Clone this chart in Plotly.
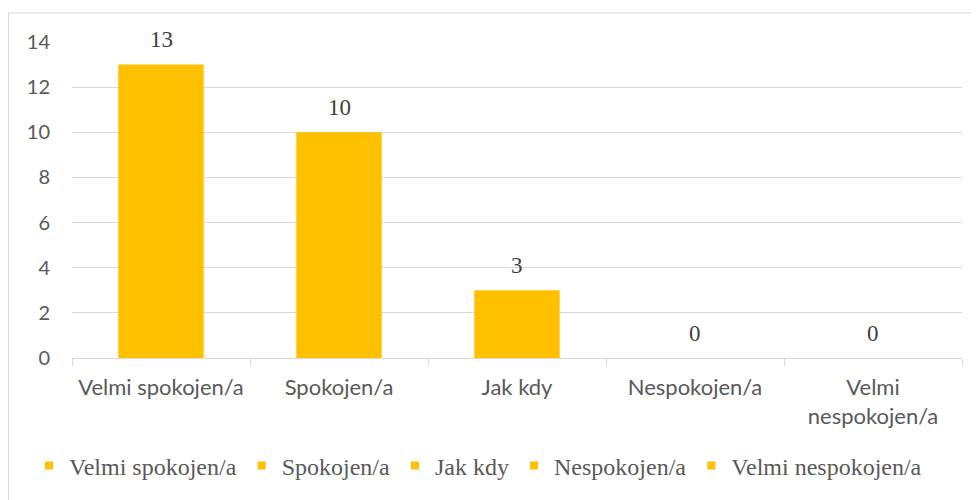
import plotly.graph_objects as go

categories = ["Velmi spokojen/a", "Spokojen/a", "Jak kdy", "Nespokojen/a", "Velmi nespokojen/a"]
tick_labels = ["Velmi spokojen/a", "Spokojen/a", "Jak kdy", "Nespokojen/a", "Velmi<br>nespokojen/a"]
values = [13, 10, 3, 0, 0]

BAR = "#FFC000"
GRID = "#D9D9D9"

# page body has an 8px margin -> compensate
L, T = 64, 34
PW, PH = 890, 316
W, H = 979, 500

fig = go.Figure()
for cat, val in zip(categories, values):
    fig.add_trace(go.Bar(x=[cat], y=[val], name=cat, marker=dict(color=BAR, line=dict(width=0)),
                         width=0.48, showlegend=False))
for cat in categories:
    fig.add_trace(go.Scatter(x=[None], y=[None], mode="markers", name=cat,
                             marker=dict(symbol="square", size=8, color=BAR)))

for cat, val in zip(categories, values):
    fig.add_annotation(x=cat, y=val, text=str(val), showarrow=False, yshift=25,
                       font=dict(family="Liberation Serif", size=23, color="#404040"))

fig.update_layout(
    width=W, height=H,
    margin=dict(l=L, r=W - L - PW, t=T, b=H - T - PH, autoexpand=False),
    paper_bgcolor="white", plot_bgcolor="white",
    barmode="overlay",
    showlegend=True,
    legend=dict(orientation="h", x=(21 - L) / PW, xanchor="left", y=-0.27, yanchor="top",
                font=dict(family="Liberation Serif", size=24, color="#595959"),
                itemwidth=30, tracegroupgap=0),
    xaxis=dict(type="category", categoryorder="array", categoryarray=categories,
               tickvals=categories, ticktext=tick_labels,
               showgrid=False, showline=True, linecolor=GRID, linewidth=1,
               ticks="outside", tickson="boundaries", ticklen=7, tickcolor=GRID,
               ticklabelstandoff=10, automargin=False,
               tickfont=dict(family="Lato", size=22, color="#595959"),
               range=[-0.5, 4.5]),
    yaxis=dict(range=[0, 14], dtick=2, showgrid=True, gridcolor=GRID, gridwidth=1,
               zeroline=False, showline=False, ticks="", ticklabelstandoff=21,
               automargin=False,
               tickfont=dict(family="Lato", size=20, color="#595959")),
)

fig.add_shape(type="rect", xref="paper", yref="paper",
              x0=(0.5 - L) / PW, x1=(970 - L) / PW, y0=-0.6, y1=1 + (T - 5) / PH,
              line=dict(color=GRID, width=1), fillcolor="rgba(0,0,0,0)", layer="below")

fig.write_html("out.html")
